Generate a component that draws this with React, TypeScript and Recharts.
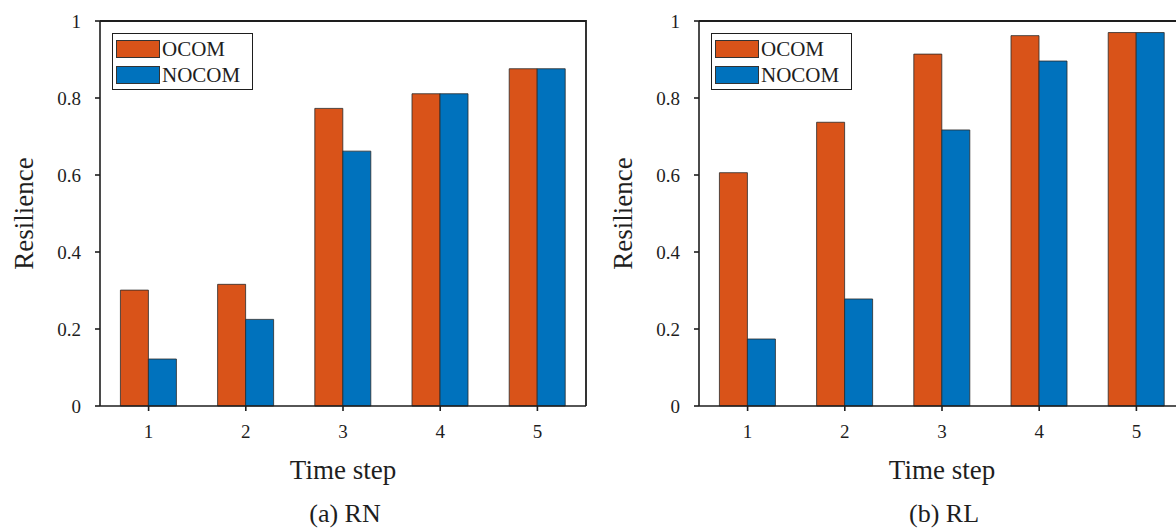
import React from 'react';
import { BarChart, Bar, XAxis, YAxis } from 'recharts';

const STEPS = ['1', '2', '3', '4', '5'];
const SERIES = ['OCOM', 'NOCOM'];
const RN_OCOM = [0.301, 0.316, 0.773, 0.811, 0.876];
const RN_NOCOM = [0.122, 0.225, 0.662, 0.811, 0.876];
const RL_OCOM = [0.606, 0.737, 0.914, 0.962, 0.97];
const RL_NOCOM = [0.174, 0.278, 0.717, 0.896, 0.97];
const Y_TICKS = [0, 0.2, 0.4, 0.6, 0.8, 1];

const COLORS: Record<string, string> = { OCOM: '#D95319', NOCOM: '#0072BD' };
const FONT = '"Liberation Serif", Tinos, "Times New Roman", Times, "DejaVu Serif", "Noto Serif", serif';
const INK = '#1e1e1e';
const AXIS = { stroke: INK, strokeWidth: 1.6 };

// panel geometry
const W = 600;
const H = 529;
const TOP = 21;
const RIGHT = 14;
const Y_AXIS_W = 100;
const X_AXIS_H = 123;

interface PanelProps {
  left: number;
  caption: string;
  ocom: number[];
  nocom: number[];
}

function Legend() {
  return (
    <div
      style={{
        position: 'absolute',
        left: 112,
        top: 33,
        width: 139,
        height: 55,
        border: `1.5px solid ${INK}`,
        background: '#fff',
        fontFamily: FONT,
        fontSize: 21,
        color: INK,
      }}
    >
      {SERIES.map((s, i) => (
        <div key={s} style={{ position: 'absolute', left: 3, top: 5 + i * 26, height: 19, display: 'flex', alignItems: 'center' }}>
          <div style={{ width: 44, height: 18, background: COLORS[s], border: '1px solid #333', boxSizing: 'border-box' }} />
          <span style={{ marginLeft: 2, lineHeight: '19px', position: 'relative', top: 1 }}>{s}</span>
        </div>
      ))}
    </div>
  );
}

// top and right edges of the axes box
function Frame() {
  const x0 = Y_AXIS_W;
  const x1 = W - RIGHT;
  const y0 = TOP;
  const y1 = H - X_AXIS_H;
  return (
    <svg width={W} height={H} style={{ position: 'absolute', left: 0, top: 0, pointerEvents: 'none', overflow: 'visible' }}>
      <path d={`M${x0},${y0} L${x1},${y0} L${x1},${y1}`} fill="none" stroke={INK} strokeWidth={1.8} />
    </svg>
  );
}

function Panel({ left, caption, ocom, nocom }: PanelProps) {
  const data = STEPS.map((s, i) => ({ step: s, OCOM: ocom[i], NOCOM: nocom[i] }));
  return (
    <div style={{ position: 'absolute', left, top: 0, width: W, height: H }}>
      <BarChart
        width={W}
        height={H}
        data={data}
        margin={{ top: TOP, right: RIGHT, bottom: 0, left: 0 }}
        barCategoryGap="21%"
        barGap={0}
      >
        <XAxis
          dataKey="step"
          height={X_AXIS_H}
          tickSize={5}
          tickMargin={14}
          axisLine={AXIS}
          tickLine={AXIS}
          tick={{ fill: INK, fontSize: 19, fontFamily: FONT }}
          label={{
            content: (p: any) => {
              const vb = p.viewBox;
              const cx = vb.x + vb.width / 2;
              return (
                <g style={{ fontFamily: FONT }} fill={INK}>
                  <text x={cx} y={vb.y + 73} textAnchor="middle" fontSize={27}>Time step</text>
                  <text x={cx + 2} y={vb.y + 116} textAnchor="middle" fontSize={26}>{caption}</text>
                </g>
              );
            },
          }}
        />
        <YAxis
          domain={[0, 1]}
          ticks={Y_TICKS}
          width={Y_AXIS_W}
          tickSize={5}
          tickMargin={14}
          axisLine={AXIS}
          tickLine={AXIS}
          tick={{ fill: INK, fontSize: 19, fontFamily: FONT }}
          label={{
            content: (p: any) => {
              const vb = p.viewBox;
              const cy = vb.y + vb.height / 2;
              return (
                <text x={33} y={cy} transform={`rotate(-90 33 ${cy})`} textAnchor="middle" fontSize={27} style={{ fontFamily: FONT }} fill={INK}>
                  Resilience
                </text>
              );
            },
          }}
        />
        {SERIES.map((s) => (
          <Bar key={s} dataKey={s} fill={COLORS[s]} stroke="#2a2a2a" strokeWidth={0.8} isAnimationActive={false} />
        ))}
      </BarChart>
      <Frame />
      <Legend />
    </div>
  );
}

export default function App() {
  return (
    <div style={{ position: 'absolute', left: 0, top: 0, width: 1176, height: 529, overflow: 'hidden', background: '#fff' }}>
      <Panel left={0} caption="(a) RN" ocom={RN_OCOM} nocom={RN_NOCOM} />
      <Panel left={599} caption="(b) RL" ocom={RL_OCOM} nocom={RL_NOCOM} />
    </div>
  );
}
